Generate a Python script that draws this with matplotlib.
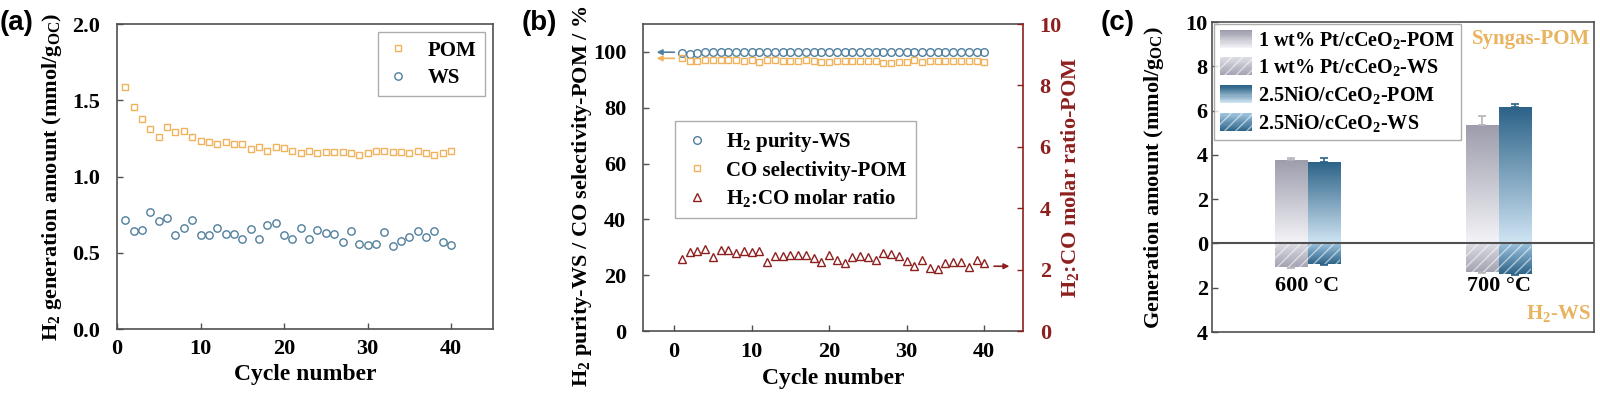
import matplotlib
matplotlib.use('Agg')
import matplotlib.pyplot as plt
import numpy as np
from matplotlib.patches import Rectangle
from matplotlib.legend_handler import HandlerBase
from matplotlib.colors import LinearSegmentedColormap
from matplotlib.ticker import FuncFormatter

plt.rcParams['font.family'] = ['Liberation Serif', 'DejaVu Serif']
plt.rcParams['font.weight'] = 'bold'
plt.rcParams['axes.labelweight'] = 'bold'
plt.rcParams['mathtext.fontset'] = 'custom'
plt.rcParams['mathtext.rm'] = 'Liberation Serif:bold'
plt.rcParams['mathtext.it'] = 'Liberation Serif:bold'
plt.rcParams['mathtext.bf'] = 'Liberation Serif:bold'
plt.rcParams['hatch.linewidth'] = 1.0

# ---------------- data ----------------
cycles = np.arange(1, 41)

# (a) H2 generation amount
pom_a = [1.585, 1.458, 1.379, 1.309, 1.261, 1.322, 1.292, 1.300, 1.261, 1.235,
         1.226, 1.213, 1.226, 1.213, 1.213, 1.183, 1.196, 1.169, 1.191, 1.187,
         1.165, 1.152, 1.169, 1.152, 1.161, 1.161, 1.161, 1.156, 1.143, 1.152,
         1.165, 1.165, 1.161, 1.161, 1.152, 1.169, 1.156, 1.143, 1.152, 1.169]
ws_a = [0.715, 0.640, 0.649, 0.767, 0.710, 0.728, 0.614, 0.662, 0.715, 0.619,
        0.614, 0.662, 0.623, 0.623, 0.588, 0.658, 0.588, 0.684, 0.697, 0.619,
        0.588, 0.662, 0.588, 0.649, 0.627, 0.623, 0.570, 0.640, 0.557, 0.553,
        0.557, 0.636, 0.544, 0.579, 0.601, 0.645, 0.601, 0.640, 0.570, 0.553]

# (b) purity / selectivity / ratio
h2_purity = [99.6, 99.4, 99.6, 99.8] + [99.9] * 36
co_sel = [97.7, 96.9, 96.9, 97.0, 97.2, 97.0, 97.0, 97.2, 96.9, 97.2,
          96.3, 97.2, 97.0, 96.8, 96.9, 96.9, 97.0, 96.8, 96.5, 96.5,
          96.8, 96.9, 96.9, 96.9, 96.8, 96.8, 96.1, 96.1, 96.5, 96.5,
          97.1, 96.3, 96.8, 96.8, 96.8, 96.8, 96.8, 96.8, 96.8, 96.5]
h2co_ratio = [2.35, 2.57, 2.59, 2.66, 2.41, 2.63, 2.63, 2.54, 2.60, 2.58,
              2.59, 2.25, 2.44, 2.44, 2.47, 2.46, 2.49, 2.39, 2.25, 2.47,
              2.32, 2.23, 2.41, 2.43, 2.42, 2.32, 2.55, 2.51, 2.43, 2.29,
              2.12, 2.31, 2.05, 2.02, 2.21, 2.25, 2.24, 2.10, 2.30, 2.21]

# (c) generation amount (WS plotted downward)
temps = ['600 °C', '700 °C']
pt_pom = [3.76, 5.34]
pt_pom_err = [0.10, 0.42]
ni_pom = [3.66, 6.18]
ni_pom_err = [0.22, 0.12]
pt_ws = [1.06, 1.28]
pt_ws_err = [0.04, 0.05]
ni_ws = [0.94, 1.39]
ni_ws_err = [0.04, 0.04]

# ---------------- styles ----------------
c_pom = '#F0B25A'
c_ws = '#4F7F9D'
c_ratio = '#8E1F1F'
c_spine = '#505050'
gray_dark, gray_light = '#9C9CAC', '#F3F3F7'
blue_dark, blue_light = '#2B6287', '#CFE4F3'
gray_ws_zero, gray_ws_end = '#DCDCE3', '#A3A3B2'
blue_ws_zero, blue_ws_end = '#9CC2DE', '#2D6489'
hatch_col = (1, 1, 1, 0.55)


def style_axes(ax, xpad=7, ypad=12):
    for s in ax.spines.values():
        s.set_color(c_spine)
        s.set_linewidth(1.2)
    ax.tick_params(direction='in', length=4, width=1, color=c_spine, labelsize=16)
    ax.tick_params(axis='x', pad=xpad)
    ax.tick_params(axis='y', pad=ypad)


fig = plt.figure(figsize=(16, 3.99), dpi=100)

# ---------------- (a) ----------------
ax1 = fig.add_axes([0.0731, 0.1754, 0.235, 0.7644])
ax1.plot(cycles, pom_a, 's', ms=4.8, mfc='none', mec=c_pom, mew=1.0, label='POM')
ax1.plot(cycles, ws_a, 'o', ms=5.3, mfc='none', mec=c_ws, mew=1.0, label='WS')
ax1.set_xlim(0, 45)
ax1.set_ylim(0, 2.0)
ax1.set_xticks([0, 10, 20, 30, 40])
ax1.set_yticks([0, 0.5, 1.0, 1.5, 2.0])
ax1.yaxis.set_major_formatter(FuncFormatter(lambda v, p: '%.1f' % v))
style_axes(ax1, 7, 12)
ax1.set_xlabel('Cycle number', fontsize=17, labelpad=4)
ax1.set_ylabel(r'H$_2$ generation amount (mmol/g$_\mathrm{OC}$)', fontsize=16)
ax1.yaxis.set_label_coords(-0.14, 0.5)
leg = ax1.legend(loc='upper right', fontsize=15, frameon=True, fancybox=False,
                 edgecolor='#999999', borderaxespad=0.4, handlelength=1.2,
                 handletextpad=0.8, labelspacing=0.35)
leg.get_frame().set_linewidth(1.0)

# ---------------- (b) ----------------
ax2 = fig.add_axes([0.4019, 0.1704, 0.2375, 0.7694])
ax3 = ax2.twinx()
l1, = ax2.plot(cycles, h2_purity, 'o', ms=5.5, mfc='none', mec=c_ws, mew=1.0, label=r'H$_2$ purity-WS')
l2, = ax2.plot(cycles, co_sel, 's', ms=5, mfc='none', mec=c_pom, mew=1.0, label='CO selectivity-POM')
l3, = ax3.plot(cycles, h2co_ratio, '^', ms=6, mfc='none', mec=c_ratio, mew=1.0, label=r'H$_2$:CO molar ratio')
ax2.set_xlim(-4, 45)
ax2.set_ylim(0, 110)
ax3.set_ylim(0, 10)
ax2.set_xticks([0, 10, 20, 30, 40])
ax2.set_yticks([0, 20, 40, 60, 80, 100])
ax3.set_yticks([0, 2, 4, 6, 8, 10])
style_axes(ax2, 8, 12)
ax2.spines['right'].set_visible(False)
for s in ax3.spines.values():
    s.set_visible(False)
ax3.spines['right'].set_visible(True)
ax3.spines['right'].set_color(c_ratio)
ax3.spines['right'].set_linewidth(1.2)
ax3.tick_params(axis='y', direction='in', length=4, width=1, color=c_ratio,
                labelcolor=c_ratio, labelsize=16, pad=12)
ax2.set_xlabel('Cycle number', fontsize=17, labelpad=4)
ax2.set_ylabel(r'H$_2$ purity-WS / CO selectivity-POM / %', fontsize=16)
ax2.yaxis.set_label_coords(-0.13, 0.44)
ax3.set_ylabel(r'H$_2$:CO molar ratio-POM', fontsize=16, color=c_ratio)
ax3.yaxis.set_label_coords(1.095, 0.5)
ax2.annotate('', xy=(-2.6, h2_purity[-1]), xytext=(0.4, h2_purity[-1]),
             arrowprops=dict(arrowstyle='-|>', color=c_ws, lw=1.2, mutation_scale=8))
ax2.annotate('', xy=(-2.6, co_sel[0]), xytext=(0.4, co_sel[0]),
             arrowprops=dict(arrowstyle='-|>', color=c_pom, lw=1.2, mutation_scale=8))
ax3.annotate('', xy=(43.6, h2co_ratio[-1] - 0.1), xytext=(40.9, h2co_ratio[-1] - 0.1),
             arrowprops=dict(arrowstyle='-|>', color=c_ratio, lw=1.2, mutation_scale=8))
leg2 = ax2.legend([l1, l2, l3], [l.get_label() for l in (l1, l2, l3)],
                  loc='upper left', bbox_to_anchor=(0.084, 0.684), borderaxespad=0,
                  fontsize=15, frameon=True, fancybox=False, edgecolor='#999999',
                  handlelength=1.2, handletextpad=0.8, labelspacing=0.3, borderpad=0.45)
leg2.get_frame().set_linewidth(1.0)

# ---------------- (c) ----------------
ax4 = fig.add_axes([0.7575, 0.1679, 0.2388, 0.7769])
xc = np.arange(len(temps))
bw = 0.17


def gradient_fill(ax, patches, c_end, c_zero):
    cmap = LinearSegmentedColormap.from_list('g', [c_zero, c_end])
    for p in patches:
        x0, y0, w, h = p.get_x(), p.get_y(), p.get_width(), p.get_height()
        lo, hi = min(y0, y0 + h), max(y0, y0 + h)
        g = np.linspace(0, 1, 200) if h > 0 else np.linspace(1, 0, 200)
        im = ax.imshow(g.reshape(-1, 1), cmap=cmap, origin='lower', aspect='auto',
                       extent=(x0, x0 + w, lo, hi), zorder=2, interpolation='bilinear')
        im.set_clip_path(p)


b_ptp = ax4.bar(xc - bw / 2, pt_pom, bw, yerr=[[0, 0], pt_pom_err], facecolor='none',
                edgecolor='none', zorder=2,
                error_kw=dict(ecolor='#B4B4BC', elinewidth=1.2, capsize=3, capthick=1.2))
b_nip = ax4.bar(xc + bw / 2, ni_pom, bw, yerr=[[0, 0], ni_pom_err], facecolor='none',
                edgecolor='none', zorder=2,
                error_kw=dict(ecolor=blue_dark, elinewidth=1.2, capsize=3, capthick=1.2))
b_ptw = ax4.bar(xc - bw / 2, -np.array(pt_ws), bw, yerr=[pt_ws_err, [0, 0]],
                facecolor='none', edgecolor='none', zorder=2,
                error_kw=dict(ecolor='#B4B4BC', elinewidth=1.2, capsize=3, capthick=1.2))
b_niw = ax4.bar(xc + bw / 2, -np.array(ni_ws), bw, yerr=[ni_ws_err, [0, 0]],
                facecolor='none', edgecolor='none', zorder=2,
                error_kw=dict(ecolor=blue_dark, elinewidth=1.2, capsize=3, capthick=1.2))
gradient_fill(ax4, b_ptp, gray_dark, gray_light)
gradient_fill(ax4, b_nip, blue_dark, blue_light)
gradient_fill(ax4, b_ptw, gray_ws_end, gray_ws_zero)
gradient_fill(ax4, b_niw, blue_ws_end, blue_ws_zero)
# hatch on WS bars
ax4.bar(xc - bw / 2, -np.array(pt_ws), bw, facecolor='none', edgecolor=hatch_col,
        linewidth=0, hatch='///', zorder=3)
ax4.bar(xc + bw / 2, -np.array(ni_ws), bw, facecolor='none', edgecolor=hatch_col,
        linewidth=0, hatch='///', zorder=3)

ax4.axhline(0, color=c_spine, lw=1.5, zorder=4)
ax4.set_xlim(-0.5, 1.5)
ax4.set_ylim(-4, 10)
ax4.set_yticks(np.arange(-4, 11, 2))
ax4.yaxis.set_major_formatter(FuncFormatter(lambda v, p: '%d' % abs(v)))
ax4.set_xticks([])
style_axes(ax4, 7, 3)
ax4.tick_params(axis='y', right=False)
for i, t in enumerate(temps):
    ax4.text(xc[i], -1.9, t, ha='center', va='center', fontsize=16, fontweight='bold')
ax4.set_ylabel(r'Generation amount (mmol/g$_\mathrm{OC}$)', fontsize=16)
ax4.yaxis.set_label_coords(-0.12, 0.5)
ax4.text(0.99, 0.945, 'Syngas-POM', transform=ax4.transAxes, ha='right', va='center',
         fontsize=15, color='#E9B35F', fontweight='bold')
ax4.text(0.99, 0.06, r'H$_2$-WS', transform=ax4.transAxes, ha='right', va='center',
         fontsize=15, color='#E9B35F', fontweight='bold')


class GradHandler(HandlerBase):
    def __init__(self, c_top, c_bot, hatch=None):
        super().__init__()
        self.c_top, self.c_bot, self.hatch = c_top, c_bot, hatch

    def create_artists(self, legend, orig_handle, xdescent, ydescent, width, height,
                       fontsize, trans):
        cmap = LinearSegmentedColormap.from_list('h', [self.c_bot, self.c_top])
        n = 16
        arts = []
        for i in range(n):
            r = Rectangle((-xdescent, -ydescent + height * i / n), width, height / n * 1.1,
                          facecolor=cmap(i / (n - 1)), edgecolor='none', lw=0,
                          antialiased=False, transform=trans)
            arts.append(r)
        if self.hatch:
            arts.append(Rectangle((-xdescent, -ydescent), width, height, facecolor='none',
                                  edgecolor=hatch_col, lw=0, hatch=self.hatch,
                                  transform=trans))
        return arts


h1, h2, h3, h4 = [Rectangle((0, 0), 1, 1) for _ in range(4)]
leg4 = ax4.legend([h1, h2, h3, h4],
                  [r'1 wt% Pt/cCeO$_2$-POM', r'1 wt% Pt/cCeO$_2$-WS',
                   r'2.5NiO/cCeO$_2$-POM', r'2.5NiO/cCeO$_2$-WS'],
                  handler_map={h1: GradHandler(gray_dark, gray_light),
                               h2: GradHandler(gray_ws_zero, gray_ws_end, '///'),
                               h3: GradHandler(blue_dark, blue_light),
                               h4: GradHandler(blue_ws_zero, blue_ws_end, '///')},
                  loc='upper left', bbox_to_anchor=(0.0, 1.0), borderaxespad=0.1,
                  fontsize=14.5, frameon=True, fancybox=False, edgecolor='#999999',
                  handlelength=1.6, handleheight=1.0, handletextpad=0.3,
                  labelspacing=0.3, borderpad=0.3)
leg4.get_frame().set_linewidth(1.0)
leg4.set_zorder(5)

# panel labels
for xl, lab in [(0.0, '(a)'), (0.326, '(b)'), (0.688, '(c)')]:
    fig.text(xl, 0.975, lab, ha='left', va='top', fontsize=20, fontweight='bold',
             family=['Liberation Sans', 'DejaVu Sans'])

fig.savefig('out.png', dpi=100)
